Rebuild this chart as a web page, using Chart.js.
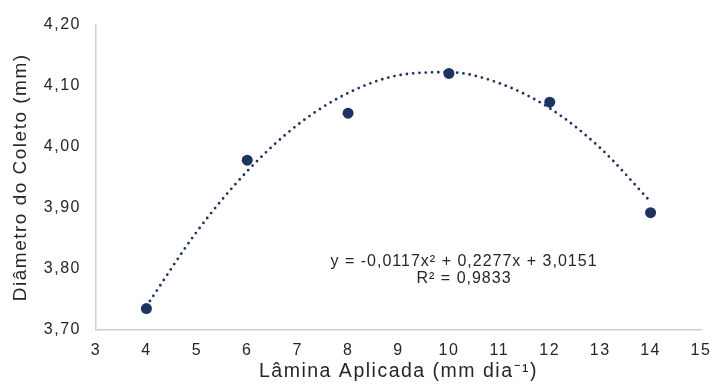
<!DOCTYPE html>
<html>
<head>
<meta charset="utf-8">
<script src="https://cdn.jsdelivr.net/npm/chart.js@4/dist/chart.umd.min.js"></script>
<style>
  html, body { margin: 0; padding: 0; background: #fff; }
  #wrap { width: 712px; height: 385px; }
</style>
</head>
<body>
<div id="wrap"><canvas id="myChart" width="712" height="385"></canvas></div>
<script>
// observed points
const lamina = [4, 6, 8, 10, 12, 14];
const diametro = [3.735, 3.978, 4.055, 4.120, 4.073, 3.892];

// dotted trend curve at each x
const trendX = [4, 5, 6, 7, 8, 9, 10, 11, 12, 13, 14];
const trendY = [3.739, 3.861, 3.960, 4.036, 4.088, 4.117, 4.122, 4.104, 4.063, 3.998, 3.910];

const xTicks = [3, 4, 5, 6, 7, 8, 9, 10, 11, 12, 13, 14, 15];
const yTicks = [3.70, 3.80, 3.90, 4.00, 4.10, 4.20];

const equation = ['y = -0,0117x\u00B2 + 0,2277x + 3,0151', 'R\u00B2 = 0,9833'];

const navy = '#1f3362';
const textColor = '#262626';
const font = 'Liberation Sans, Arial, sans-serif';

// the reference text is wide, so add a little letter spacing everywhere
const spacingPlugin = {
	id: 'letterSpacing',
	beforeLayout(chart) { chart.ctx.letterSpacing = '1.5px'; },
	beforeDraw(chart) { chart.ctx.letterSpacing = '1.5px'; }
};

const equationPlugin = {
	id: 'equationText',
	afterDraw(chart) {
		const ctx = chart.ctx;
		const cx = chart.scales.x.getPixelForValue(10.30);
		let cy = chart.scales.y.getPixelForValue(3.812);
		ctx.save();
		ctx.letterSpacing = '1px';
		ctx.fillStyle = textColor;
		ctx.font = '16px ' + font;
		ctx.textAlign = 'center';
		ctx.textBaseline = 'middle';
		equation.forEach(line => {
			ctx.fillText(line, cx, cy);
			cy += 17.5;
		});
		ctx.restore();
	}
};

const chart = new Chart(document.getElementById('myChart'), {
	type: 'scatter',
	data: {
		datasets: [
			{
				label: 'Tendência',
				data: trendX.map((x, i) => ({x: x, y: trendY[i]})),
				showLine: true,
				borderColor: navy,
				borderWidth: 2.8,
				borderDash: [0, 6.3],
				borderCapStyle: 'round',
				pointRadius: 0,
				cubicInterpolationMode: 'monotone',
				order: 2
			},
			{
				label: 'Diâmetro',
				data: lamina.map((x, i) => ({x: x, y: diametro[i]})),
				backgroundColor: navy,
				borderColor: navy,
				pointRadius: 5.5,
				pointBorderWidth: 0,
				order: 1
			}
		]
	},
	options: {
		responsive: false,
		animation: false,
		layout: {padding: {top: 21, right: 11, left: 8, bottom: 0}},
		plugins: {legend: {display: false}, tooltip: {enabled: false}},
		scales: {
			x: {
				type: 'linear',
				min: 3,
				max: 15,
				afterBuildTicks: axis => { axis.ticks = xTicks.map(v => ({value: v})); },
				afterFit: scale => {
					scale.height = 55;
					scale.paddingLeft = 0;
					scale.paddingRight = 0;
				},
				grid: {display: false, drawTicks: false},
				border: {display: true, color: '#d0d0d0', width: 1.5},
				ticks: {color: textColor, font: {family: font, size: 16}, padding: 11},
				title: {
					display: true,
					text: 'Lâmina Aplicada (mm dia\u207B\u00B9)',
					color: textColor,
					font: {family: font, size: 19.5},
					padding: {top: 0, bottom: 2}
				}
			},
			y: {
				min: 3.70,
				max: 4.20,
				afterBuildTicks: axis => { axis.ticks = yTicks.map(v => ({value: v})); },
				afterFit: scale => { scale.width = 88; },
				grid: {display: false, drawTicks: false},
				border: {display: true, color: '#d0d0d0', width: 1.5},
				ticks: {
					color: textColor,
					font: {family: font, size: 16},
					padding: 15,
					callback: v => v.toFixed(2).replace('.', ',')
				},
				title: {
					display: true,
					text: 'Diâmetro do Coleto (mm)',
					color: textColor,
					font: {family: font, size: 19},
					padding: {top: 1, bottom: 0}
				}
			}
		}
	},
	plugins: [spacingPlugin, equationPlugin]
});
</script>
</body>
</html>
